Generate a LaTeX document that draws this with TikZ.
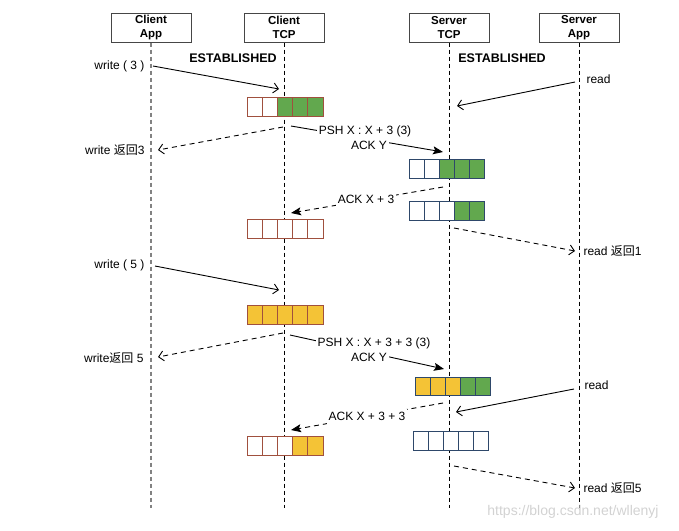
\documentclass[tikz,border=0pt]{standalone}
\usepackage{fontspec}
\setmainfont{Liberation Sans}
\newfontfamily\cjk{Noto Sans CJK SC}
\usepackage{tikz}
\usetikzlibrary{arrows.meta}

\definecolor{boxgray}{RGB}{70,70,70}
\definecolor{lifegray}{RGB}{130,130,130}
\definecolor{cgreen}{RGB}{98,168,78}
\definecolor{cyellow}{RGB}{244,195,54}
\definecolor{clientedge}{RGB}{160,80,62}
\definecolor{serveredge}{RGB}{46,72,106}

\begin{document}
\begin{tikzpicture}
    [x=1pt,y=-1pt,
     every node/.style={font=\fontsize{12}{15}\selectfont},
     hdr/.style={draw=boxgray,line width=1pt,minimum width=80pt,minimum height=29pt,
                 inner sep=0pt,align=center,font=\fontsize{11.5}{14}\selectfont\bfseries},
     life/.style={line width=0.8pt,dash pattern=on 4pt off 3pt},
     ccell/.style={draw=clientedge,line width=1pt,minimum width=15.2pt,minimum height=19pt,inner sep=0pt},
     scell/.style={draw=serveredge,line width=1pt,minimum width=15pt,minimum height=18.5pt,inner sep=0pt},
     open/.style={line width=0.9pt,-{Straight Barb[length=5pt,width=10pt]}},
     dopen/.style={open,dash pattern=on 5pt off 4pt},
     full/.style={line width=0.9pt,-{Stealth[length=10pt,width=8pt,inset=2pt]}},
     dfull/.style={full,dash pattern=on 5pt off 4pt},
     lbl/.style={fill=white,inner sep=2pt,text height=9pt,text depth=2.5pt}]
    \useasboundingbox (0,0) rectangle (679,530);

    % heads and life lines
    \node[hdr] (capp) at (151,27.5) {Client\\App};
    \node[hdr] (ctcp) at (284,27.5) {Client\\TCP};
    \node[hdr] (stcp) at (449,27.5) {Server\\TCP};
    \node[hdr] (sapp) at (579,27.5) {Server\\App};
    \coordinate (cappend) at (151,508);
    \coordinate (ctcpend) at (284,508);
    \coordinate (stcpend) at (449,508);
    \coordinate (sappend) at (579,508);
    \draw[life,draw=lifegray,line width=1.3pt] (capp) -- (cappend);
    \draw[life] (ctcp) -- (ctcpend);
    \draw[life] (stcp) -- (stcpend);
    \draw[life] (sapp) -- (sappend);

    \node[font=\fontsize{12.5}{15}\selectfont\bfseries] (estc) at (233,58) {ESTABLISHED};
    \node[font=\fontsize{12.5}{15}\selectfont\bfseries] (ests) at (502,58) {ESTABLISHED};

    % buffers
    \foreach \f [count=\i from 0] in {white,white,cgreen,cgreen,cgreen}
        \node[ccell,fill=\f] (cbufa\i) at (254.6+15.2*\i,107) {};
    \foreach \f [count=\i from 0] in {white,white,cgreen,cgreen,cgreen}
        \node[scell,fill=\f] (sbufa\i) at (416.5+15*\i,169) {};
    \foreach \f [count=\i from 0] in {white,white,white,cgreen,cgreen}
        \node[scell,fill=\f] (sbufb\i) at (416.5+15*\i,211) {};
    \foreach \f [count=\i from 0] in {white,white,white,white,white}
        \node[ccell,fill=\f] (cbufb\i) at (254.6+15.2*\i,229) {};
    \foreach \f [count=\i from 0] in {cyellow,cyellow,cyellow,cyellow,cyellow}
        \node[ccell,fill=\f] (cbufc\i) at (254.6+15.2*\i,314.5) {};
    \foreach \f [count=\i from 0] in {cyellow,cyellow,cyellow,cgreen,cgreen}
        \node[scell,fill=\f] (sbufc\i) at (422.5+15*\i,386.5) {};
    \foreach \f [count=\i from 0] in {white,white,white,cyellow,cyellow}
        \node[ccell,fill=\f] (cbufd\i) at (254.6+15.2*\i,445.5) {};
    \foreach \f [count=\i from 0] in {white,white,white,white,white}
        \node[scell,fill=\f] (sbufd\i) at (420.5+15*\i,441) {};

    % application calls
    \node[anchor=east] (wthree) at (148,66) {write ( 3 )};
    \coordinate (wthreea) at (153,66);
    \coordinate (wthreeb) at (279,89);
    \draw[open] (wthreea) -- (wthreeb);

    \node[anchor=west] (readone) at (583,79) {read};
    \coordinate (readonea) at (575,82);
    \coordinate (readoneb) at (457,106);
    \draw[open] (readonea) -- (readoneb);

    \node[anchor=east] (wretthree) at (148,150) {write {\cjk 返回}3};
    \coordinate (wretthreea) at (283,127);
    \coordinate (wretthreeb) at (158,150);
    \draw[dopen] (wretthreea) -- (wretthreeb);

    \node[anchor=west] (rretone) at (580,251) {read {\cjk 返回}1};
    \coordinate (rretonea) at (454,228);
    \coordinate (rretoneb) at (575,251);
    \draw[dopen] (rretonea) -- (rretoneb);

    \node[anchor=east] (wfive) at (148,265) {write ( 5 )};
    \coordinate (wfivea) at (155,266);
    \coordinate (wfiveb) at (279,290);
    \draw[open] (wfivea) -- (wfiveb);

    \node[anchor=east] (wretfive) at (147,358) {write{\cjk 返回} 5};
    \coordinate (wretfivea) at (283,333);
    \coordinate (wretfiveb) at (158,357);
    \draw[dopen] (wretfivea) -- (wretfiveb);

    \node[anchor=west] (readtwo) at (581,385) {read};
    \coordinate (readtwoa) at (574,389);
    \coordinate (readtwob) at (456,412);
    \draw[open] (readtwoa) -- (readtwob);

    \node[anchor=west] (rretfive) at (580,488) {read {\cjk 返回}5};
    \coordinate (rretfivea) at (454,466);
    \coordinate (rretfiveb) at (575,488);
    \draw[dopen] (rretfivea) -- (rretfiveb);

    % segments between the two TCP stacks
    \coordinate (pshonea) at (291,126);
    \coordinate (pshoneb) at (443,152);
    \draw[full] (pshonea) -- (pshoneb);
    \node[lbl] (pshone) at (365,131) {PSH X : X + 3 (3)};
    \node[lbl] (ackyone) at (369,146) {ACK Y};

    \coordinate (ackonea) at (443,187);
    \coordinate (ackoneb) at (291,213);
    \draw[dfull] (ackonea) -- (ackoneb);
    \node[lbl] (ackone) at (366,200) {ACK X + 3};

    \coordinate (pshtwoa) at (290,335);
    \coordinate (pshtwob) at (444,369);
    \draw[full] (pshtwoa) -- (pshtwob);
    \node[lbl] (pshtwo) at (374,343) {PSH X : X + 3 + 3 (3)};
    \node[lbl] (ackytwo) at (369,358) {ACK Y};

    \coordinate (acktwoa) at (443,403);
    \coordinate (acktwob) at (291,430);
    \draw[dfull] (acktwoa) -- (acktwob);
    \node[lbl] (acktwo) at (367,417) {ACK X + 3 + 3};

    \node[text=gray!35,font=\fontsize{14}{16}\selectfont] (wmark) at (573,512) {https://blog.csdn.net/wllenyj};
\end{tikzpicture}
\end{document}
